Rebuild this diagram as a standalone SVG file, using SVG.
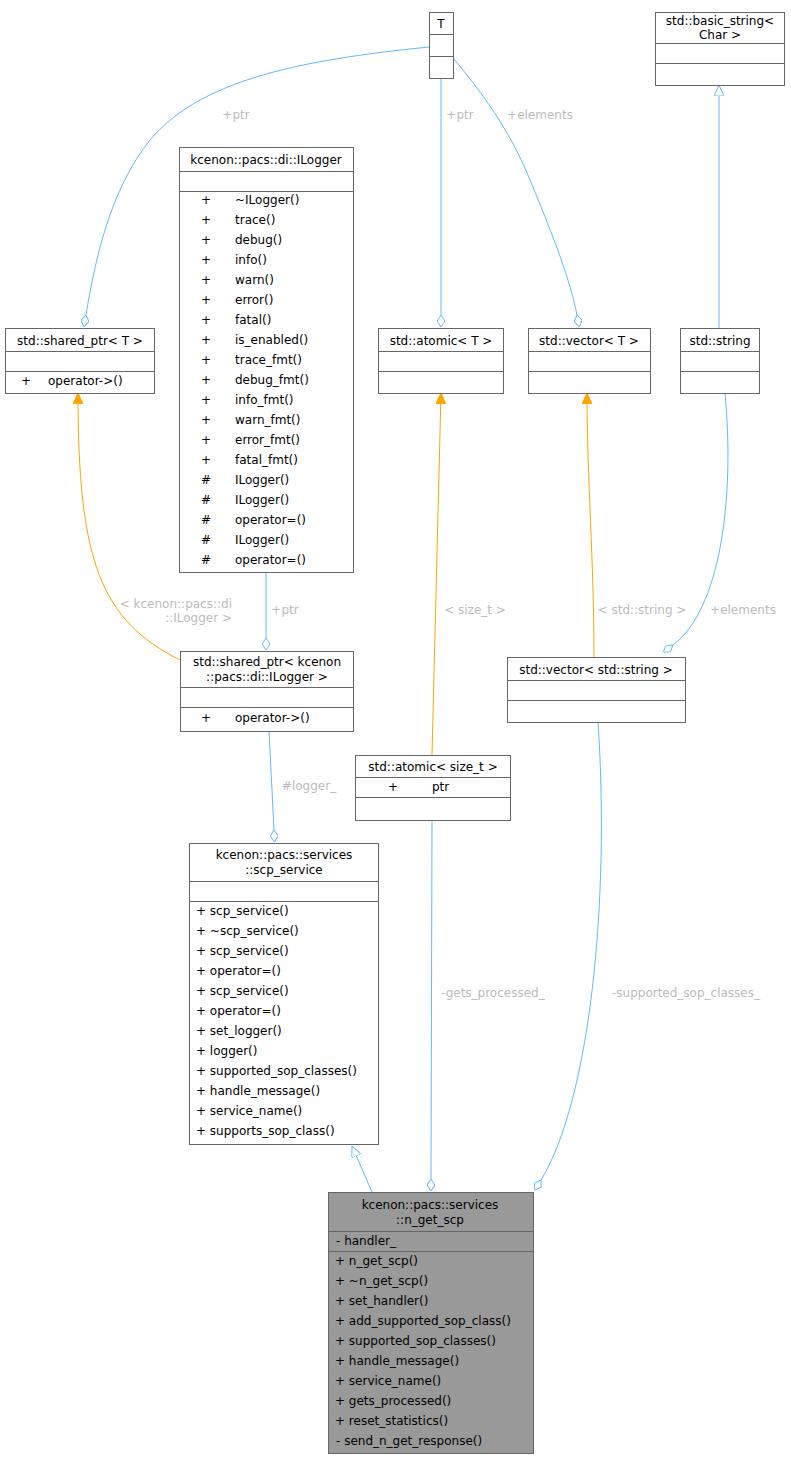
<svg xmlns="http://www.w3.org/2000/svg" width="791" height="1459" viewBox="0 0 791 1459">
<style>
text{font-family:"DejaVu Sans","Liberation Sans",sans-serif;font-size:12px;fill:#000}
.c{text-anchor:middle}
.b{fill:#fff;stroke:#666;stroke-width:1}
.g{fill:#999;stroke:#666;stroke-width:1}
.l{stroke:#666;stroke-width:1}
.e{fill:none;stroke:#63b8ff;stroke-width:1}
.o{fill:none;stroke:#ffa500;stroke-width:1}
.lb{fill:#bbb;font-size:12px}
</style>
<defs>
<marker id="dm" markerWidth="12" markerHeight="8" refX="0" refY="4" orient="auto" markerUnits="userSpaceOnUse"><path d="M0,4 L6,0 L12,4 L6,8 Z" fill="#fff" stroke="#63b8ff"/></marker>
<marker id="tr" markerWidth="11" markerHeight="10" refX="11" refY="5" orient="auto" markerUnits="userSpaceOnUse"><path d="M0,0 L11,5 L0,10 Z" fill="#fff" stroke="#63b8ff"/></marker>
<marker id="or" markerWidth="11" markerHeight="10" refX="11" refY="5" orient="auto" markerUnits="userSpaceOnUse"><path d="M0,0 L11,5 L0,10 Z" fill="#ffa500" stroke="#ffa500"/></marker>
</defs>
<rect width="791" height="1459" fill="#fff"/>
<g id="edges">
<path class="e" d="M429,47 C300,60 200,80 150,140 C110,190 95,260 86,315" marker-end="url(#dm)"/>
<text class="lb c" x="236" y="119">+ptr</text>
<path class="e" d="M441,78 L441,315" marker-end="url(#dm)"/>
<text class="lb c" x="460" y="119">+ptr</text>
<path class="e" d="M453,58 C480,90 510,130 530,180 C555,240 570,280 577,315" marker-end="url(#dm)"/>
<text class="lb c" x="540" y="119">+elements</text>
<path class="e" d="M719,328 L719,85" marker-end="url(#tr)"/>
<path class="o" d="M180,660 C100,620 78,560 78,393" marker-end="url(#or)"/>
<text class="lb" x="232" y="608" text-anchor="end">&lt; kcenon::pacs::di</text>
<text class="lb" x="232" y="622" text-anchor="end">::ILogger &gt;</text>
<path class="e" d="M266,573 L266,638" marker-end="url(#dm)"/>
<text class="lb c" x="285" y="614">+ptr</text>
<path class="o" d="M432,755 L441,393" marker-end="url(#or)"/>
<text class="lb c" x="475" y="614">&lt; size_t &gt;</text>
<path class="o" d="M594,657 C594,560 587,480 587,393" marker-end="url(#or)"/>
<text class="lb c" x="642" y="614">&lt; std::string &gt;</text>
<path class="e" d="M725,393 C735,500 720,610 673,645" marker-end="url(#dm)"/>
<text class="lb c" x="743" y="614">+elements</text>
<path class="e" d="M269,731 L274,830" marker-end="url(#dm)"/>
<text class="lb c" x="309" y="790">#logger_</text>
<path class="e" d="M372,1192 L352,1146" marker-end="url(#tr)"/>
<path class="e" d="M432,820 L431,1179" marker-end="url(#dm)"/>
<text class="lb c" x="493" y="997">-gets_processed_</text>
<path class="e" d="M598,722 C610,900 590,1100 541,1180" marker-end="url(#dm)"/>
<text class="lb c" x="686" y="997">-supported_sop_classes_</text>
</g>
<g id="T"><rect class="b" x="429.5" y="12.5" width="24" height="66"/><line class="l" x1="429.5" y1="34.5" x2="453.5" y2="34.5"/><line class="l" x1="429.5" y1="56.5" x2="453.5" y2="56.5"/><text class="c" x="441" y="28">T</text></g>
<g id="basic_string"><rect class="b" x="655.5" y="12.5" width="129" height="73"/><line class="l" x1="655.5" y1="43.5" x2="784.5" y2="43.5"/><line class="l" x1="655.5" y1="63.5" x2="784.5" y2="63.5"/><text class="c" x="720" y="25">std::basic_string&lt;</text><text class="c" x="720" y="39">Char &gt;</text></g>
<g id="ILogger"><rect class="b" x="179.5" y="147.5" width="174" height="425"/><line class="l" x1="179.5" y1="171.5" x2="353.5" y2="171.5"/><line class="l" x1="179.5" y1="191.5" x2="353.5" y2="191.5"/><text class="c" x="266" y="164">kcenon::pacs::di::ILogger</text>
<g><text x="201" y="204">+</text><text x="235" y="204">~ILogger()</text>
<text x="201" y="224">+</text><text x="235" y="224">trace()</text>
<text x="201" y="244">+</text><text x="235" y="244">debug()</text>
<text x="201" y="264">+</text><text x="235" y="264">info()</text>
<text x="201" y="284">+</text><text x="235" y="284">warn()</text>
<text x="201" y="304">+</text><text x="235" y="304">error()</text>
<text x="201" y="324">+</text><text x="235" y="324">fatal()</text>
<text x="201" y="344">+</text><text x="235" y="344">is_enabled()</text>
<text x="201" y="364">+</text><text x="235" y="364">trace_fmt()</text>
<text x="201" y="384">+</text><text x="235" y="384">debug_fmt()</text>
<text x="201" y="404">+</text><text x="235" y="404">info_fmt()</text>
<text x="201" y="424">+</text><text x="235" y="424">warn_fmt()</text>
<text x="201" y="444">+</text><text x="235" y="444">error_fmt()</text>
<text x="201" y="464">+</text><text x="235" y="464">fatal_fmt()</text>
<text x="201" y="484">#</text><text x="235" y="484">ILogger()</text>
<text x="201" y="504">#</text><text x="235" y="504">ILogger()</text>
<text x="201" y="524">#</text><text x="235" y="524">operator=()</text>
<text x="201" y="544">#</text><text x="235" y="544">ILogger()</text>
<text x="201" y="564">#</text><text x="235" y="564">operator=()</text></g></g>
<g id="shared_ptr_T"><rect class="b" x="5.5" y="328.5" width="149" height="65"/><line class="l" x1="5.5" y1="351.5" x2="154.5" y2="351.5"/><line class="l" x1="5.5" y1="371.5" x2="154.5" y2="371.5"/><text class="c" x="80" y="345">std::shared_ptr&lt; T &gt;</text><text x="21" y="385">+</text><text x="48" y="385">operator-&gt;()</text></g>
<g id="atomic_T"><rect class="b" x="378.5" y="328.5" width="125" height="65"/><line class="l" x1="378.5" y1="351.5" x2="503.5" y2="351.5"/><line class="l" x1="378.5" y1="371.5" x2="503.5" y2="371.5"/><text class="c" x="441" y="345">std::atomic&lt; T &gt;</text></g>
<g id="vector_T"><rect class="b" x="528.5" y="328.5" width="122" height="65"/><line class="l" x1="528.5" y1="351.5" x2="650.5" y2="351.5"/><line class="l" x1="528.5" y1="371.5" x2="650.5" y2="371.5"/><text class="c" x="589" y="345">std::vector&lt; T &gt;</text></g>
<g id="string"><rect class="b" x="680.5" y="328.5" width="79" height="65"/><line class="l" x1="680.5" y1="351.5" x2="759.5" y2="351.5"/><line class="l" x1="680.5" y1="371.5" x2="759.5" y2="371.5"/><text class="c" x="720" y="345">std::string</text></g>
<g id="shared_ptr_ILogger"><rect class="b" x="180.5" y="651.5" width="173" height="80"/><line class="l" x1="180.5" y1="687.5" x2="353.5" y2="687.5"/><line class="l" x1="180.5" y1="707.5" x2="353.5" y2="707.5"/><text class="c" x="267" y="666">std::shared_ptr&lt; kcenon</text><text class="c" x="267" y="681">::pacs::di::ILogger &gt;</text><text x="201" y="722">+</text><text x="235" y="722">operator-&gt;()</text></g>
<g id="vector_string"><rect class="b" x="507.5" y="657.5" width="178" height="65"/><line class="l" x1="507.5" y1="680.5" x2="685.5" y2="680.5"/><line class="l" x1="507.5" y1="700.5" x2="685.5" y2="700.5"/><text class="c" x="596" y="674">std::vector&lt; std::string &gt;</text></g>
<g id="atomic_size_t"><rect class="b" x="355.5" y="755.5" width="155" height="65"/><line class="l" x1="355.5" y1="777.5" x2="510.5" y2="777.5"/><line class="l" x1="355.5" y1="797.5" x2="510.5" y2="797.5"/><text class="c" x="433" y="771">std::atomic&lt; size_t &gt;</text><text x="388" y="791">+</text><text x="432" y="791">ptr</text></g>
<g id="scp_service"><rect class="b" x="189.5" y="843.5" width="189" height="301"/><line class="l" x1="189.5" y1="881.5" x2="378.5" y2="881.5"/><line class="l" x1="189.5" y1="901.5" x2="378.5" y2="901.5"/><text class="c" x="284" y="859">kcenon::pacs::services</text><text class="c" x="284" y="874">::scp_service</text>
<text x="196" y="915">+  scp_service()</text>
<text x="196" y="935">+  ~scp_service()</text>
<text x="196" y="955">+  scp_service()</text>
<text x="196" y="975">+  operator=()</text>
<text x="196" y="995">+  scp_service()</text>
<text x="196" y="1015">+  operator=()</text>
<text x="196" y="1035">+  set_logger()</text>
<text x="196" y="1055">+  logger()</text>
<text x="196" y="1075">+  supported_sop_classes()</text>
<text x="196" y="1095">+  handle_message()</text>
<text x="196" y="1115">+  service_name()</text>
<text x="196" y="1135">+  supports_sop_class()</text></g>
<g id="n_get_scp"><rect class="g" x="328.5" y="1192.5" width="205" height="261"/><line class="l" x1="328.5" y1="1231.5" x2="533.5" y2="1231.5"/><line class="l" x1="328.5" y1="1251.5" x2="533.5" y2="1251.5"/><text class="c" x="430" y="1209">kcenon::pacs::services</text><text class="c" x="430" y="1224">::n_get_scp</text>
<text x="336" y="1245">-  handler_</text>
<text x="335" y="1265">+  n_get_scp()</text>
<text x="335" y="1285">+  ~n_get_scp()</text>
<text x="335" y="1305">+  set_handler()</text>
<text x="335" y="1325">+  add_supported_sop_class()</text>
<text x="335" y="1345">+  supported_sop_classes()</text>
<text x="335" y="1365">+  handle_message()</text>
<text x="335" y="1385">+  service_name()</text>
<text x="335" y="1405">+  gets_processed()</text>
<text x="335" y="1425">+  reset_statistics()</text>
<text x="336" y="1445">-  send_n_get_response()</text></g>
</svg>
